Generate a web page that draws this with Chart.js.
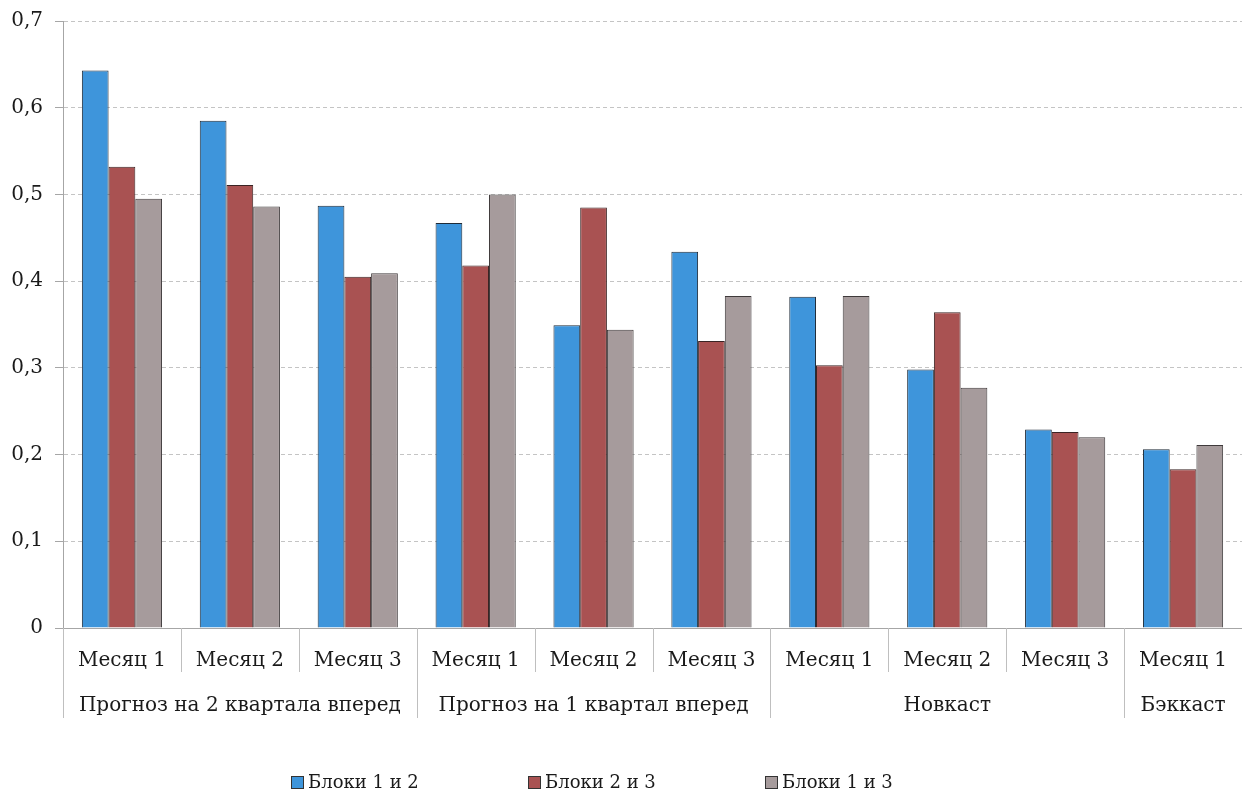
<!DOCTYPE html>
<html>
<head>
<meta charset="utf-8">
<script src="https://cdn.jsdelivr.net/npm/chart.js@4/dist/chart.umd.min.js"></script>
<style>
  html, body { margin: 0; padding: 0; background: #ffffff; }
  #wrap { width: 1242px; height: 794px; position: relative; }
</style>
</head>
<body>
<div id="wrap"><canvas id="chart" width="1242" height="794"></canvas></div>
<script>
// Inner level: month within each forecast horizon
const months = ['Месяц 1', 'Месяц 2', 'Месяц 3', 'Месяц 1', 'Месяц 2', 'Месяц 3',
                'Месяц 1', 'Месяц 2', 'Месяц 3', 'Месяц 1'];
// Outer level: forecast horizons and how many months each spans
const horizons = ['Прогноз на 2 квартала вперед', 'Прогноз на 1 квартал вперед', 'Новкаст', 'Бэккаст'];
const horizonSizes = [3, 3, 3, 1];

const seriesNames = ['Блоки 1 и 2', 'Блоки 2 и 3', 'Блоки 1 и 3'];
const blocks12 = [0.643, 0.585, 0.487, 0.467, 0.349, 0.434, 0.382, 0.298, 0.229, 0.206];
const blocks23 = [0.532, 0.511, 0.405, 0.418, 0.485, 0.331, 0.303, 0.364, 0.226, 0.183];
const blocks13 = [0.495, 0.486, 0.409, 0.500, 0.344, 0.383, 0.383, 0.277, 0.220, 0.211];

const yTicks = [0, 0.1, 0.2, 0.3, 0.4, 0.5, 0.6, 0.7];

const FONT = '"DejaVu Serif", "Liberation Serif", serif';
const TEXT = '#1a1a1a';
const SEP = '#bfbfbf';

// Two-level category labels and separators under the x axis
const multiLevelAxis = {
  id: 'multiLevelAxis',
  afterDraw(chart) {
    const {ctx, chartArea} = chart;
    const x = chart.scales.x;
    const n = months.length;
    const half = (x.getPixelForValue(1) - x.getPixelForValue(0)) / 2;
    const base = chartArea.bottom;
    ctx.save();
    ctx.strokeStyle = SEP;
    ctx.lineWidth = 1;
    // boundaries that close a horizon group get the long separator
    const groupEnds = new Set();
    let acc = 0;
    horizonSizes.forEach(s => { acc += s; groupEnds.add(acc); });
    for (let i = 0; i <= n; i++) {
      const px = Math.round(i < n ? x.getPixelForValue(i) - half : x.getPixelForValue(n - 1) + half) + 0.5;
      const long = i === 0 || groupEnds.has(i);
      ctx.beginPath();
      ctx.moveTo(px, base);
      ctx.lineTo(px, base + (long ? 90 : 44));
      ctx.stroke();
    }
    ctx.fillStyle = TEXT;
    ctx.font = '20px ' + FONT;
    ctx.textAlign = 'center';
    ctx.textBaseline = 'middle';
    let start = 0;
    horizons.forEach((label, g) => {
      const endIdx = start + horizonSizes[g] - 1;
      const cx = (x.getPixelForValue(start) + x.getPixelForValue(endIdx)) / 2;
      ctx.fillText(label, cx, base + 78);
      start += horizonSizes[g];
    });
    ctx.restore();
  }
};

// Legend row along the bottom edge
const bottomLegend = {
  id: 'bottomLegend',
  afterDraw(chart) {
    const {ctx} = chart;
    const y = 782;
    const step = 237;
    const x0 = 291;
    ctx.save();
    ctx.font = '18px ' + FONT;
    ctx.textBaseline = 'middle';
    ctx.textAlign = 'left';
    chart.data.datasets.forEach((ds, i) => {
      const bx = x0 + i * step;
      ctx.fillStyle = ds.backgroundColor;
      ctx.fillRect(bx + 0.5, y - 5.5, 12, 12);
      ctx.strokeStyle = '#333333';
      ctx.lineWidth = 1;
      ctx.strokeRect(bx + 0.5, y - 5.5, 12, 12);
      ctx.fillStyle = TEXT;
      ctx.fillText(ds.label, bx + 17, y + 1);
    });
    ctx.restore();
  }
};

new Chart(document.getElementById('chart'), {
  type: 'bar',
  data: {
    labels: months,
    datasets: [
      { label: seriesNames[0], data: blocks12, backgroundColor: '#3e95db', borderColor: '#1f2b38', borderWidth: 1 },
      { label: seriesNames[1], data: blocks23, backgroundColor: '#a95252', borderColor: '#3a2424', borderWidth: 1 },
      { label: seriesNames[2], data: blocks13, backgroundColor: '#a69b9c', borderColor: '#3f3a3b', borderWidth: 1 }
    ]
  },
  options: {
    responsive: false,
    animation: false,
    layout: { padding: { top: 21, right: 0, left: 0, bottom: 0 } },
    datasets: { bar: { categoryPercentage: 0.68, barPercentage: 1.0 } },
    plugins: { legend: { display: false }, tooltip: { enabled: false } },
    scales: {
      x: {
        type: 'category',
        offset: true,
        grid: { display: false },
        border: { display: true, color: '#a6a6a6', width: 1 },
        ticks: { color: TEXT, font: { family: FONT, size: 20 }, padding: 13, maxRotation: 0, autoSkip: false },
        afterFit(scale) { scale.height = 166; }
      },
      y: {
        min: 0,
        max: 0.7,
        afterBuildTicks(scale) { scale.ticks = yTicks.map(v => ({ value: v })); },
        grid: { color: '#c4c4c4', lineWidth: 1, tickLength: 8, tickColor: '#a6a6a6', drawTicks: true },
        border: { display: true, color: '#a6a6a6', width: 1, dash: [4, 3] },
        ticks: {
          color: TEXT,
          font: { family: FONT, size: 20 },
          padding: 12,
          callback: v => (v === 0 ? '0' : v.toFixed(1).replace('.', ','))
        },
        afterFit(scale) {
          scale.width = 63;
          scale.paddingTop = 0;
          scale.paddingBottom = 0;
        }
      }
    }
  },
  plugins: [multiLevelAxis, bottomLegend]
});
</script>
</body>
</html>
